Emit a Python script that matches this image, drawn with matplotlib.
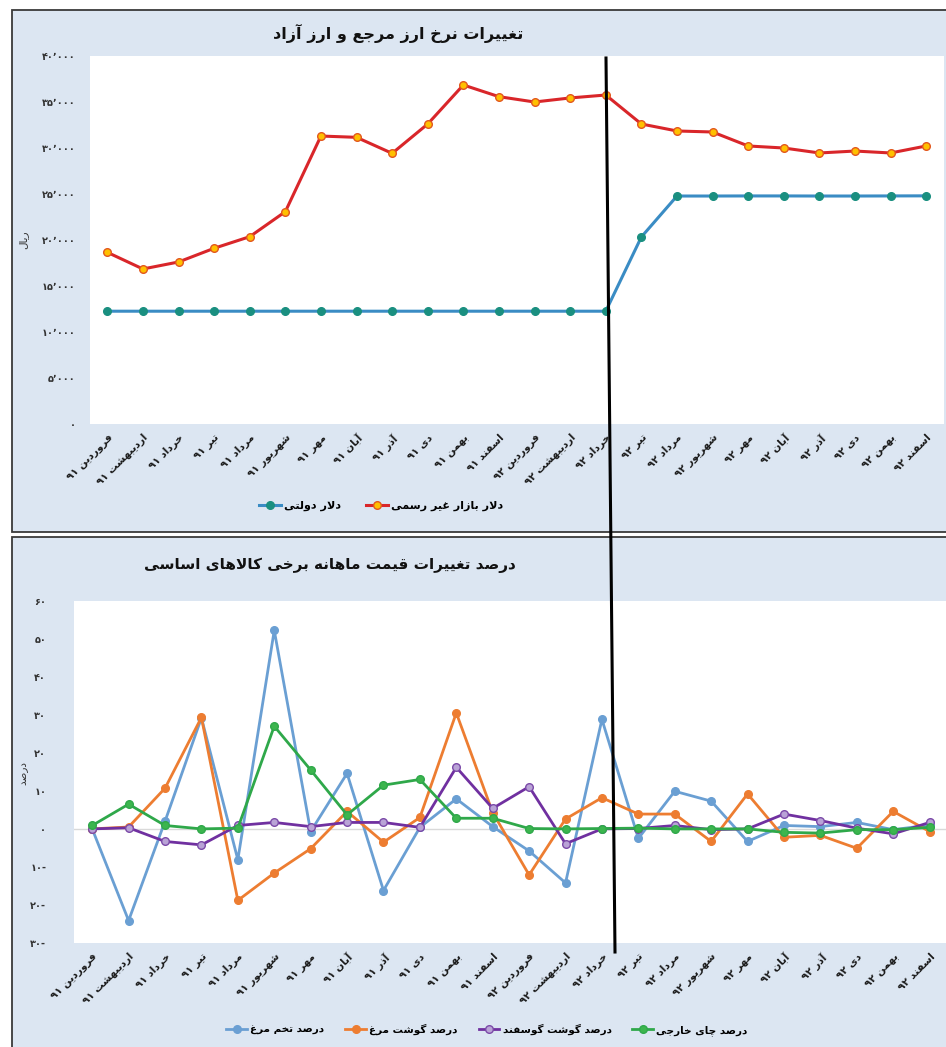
import matplotlib
matplotlib.use("Agg")
import matplotlib.pyplot as plt
from matplotlib.lines import Line2D
from matplotlib.patches import Rectangle

plt.rcParams['font.family'] = ['DejaVu Sans']

# ---------------- data ----------------
months = ["فروردین", "اردیبهشت", "خرداد", "تیر", "مرداد", "شهریور",
          "مهر", "آبان", "آذر", "دی", "بهمن", "اسفند"]
years = ["۹۱", "۹۲"]
categories = [m + " " + y for y in years for m in months]

official_usd = [12260, 12260, 12260, 12260, 12260, 12260, 12260, 12260,
                12260, 12260, 12260, 12260, 12260, 12260, 12260, 20330,
                24780, 24780, 24790, 24790, 24780, 24780, 24790, 24800]
market_usd = [18660, 16850, 17610, 19100, 20360, 23080, 31300, 31160,
              29420, 32610, 36850, 35580, 35000, 35440, 35760, 32610,
              31850, 31740, 30220, 30000, 29460, 29670, 29460, 30220]

egg = [0, -24.1, 2.0, 29.2, -8.1, 52.2, -0.7, 14.6, -16.2, 0.4, 7.9, 0.6,
       -5.8, -14.2, 28.8, -2.5, 9.9, 7.3, -3.3, 0.9, 0.6, 1.7, -0.2, 1.0]
chicken = [0, 0.5, 10.7, 29.3, -18.8, -11.6, -5.2, 4.6, -3.5, 3.0, 30.5, 4.3,
           -12.1, 2.6, 8.2, 3.9, 3.9, -3.3, 9.2, -2.2, -1.7, -5.1, 4.6, -0.7]
mutton = [0, 0.3, -3.3, -4.2, 0.9, 1.7, 0.6, 1.7, 1.7, 0.4, 16.2, 5.4,
          11.1, -3.9, 0.0, 0.1, 0.9, -0.2, 0.0, 3.9, 2.2, 0.2, -1.3, 1.7]
tea = [0.9, 6.5, 0.9, 0.0, 0.2, 27.0, 15.5, 3.7, 11.5, 13.0, 2.8, 2.8,
       0.1, 0.0, 0.1, 0.2, 0.0, 0.0, 0.0, -0.9, -1.1, -0.2, -0.2, 0.4]

title_top = "تغییرات نرخ ارز مرجع و ارز آزاد"
title_bottom = "درصد تغییرات قیمت ماهانه برخی کالاهای اساسی"
ylabel_top = "ریال"
ylabel_bottom = "درصد"
legend_top = ["دلار دولتی", "دلار بازار غیر رسمی"]
legend_bottom = ["درصد تخم مرغ", "درصد گوشت مرغ", "درصد گوشت گوسفند", "درصد چای خارجی"]

top_ticks = [0, 5000, 10000, 15000, 20000, 25000, 30000, 35000, 40000]
bottom_ticks = [-30, -20, -10, 0, 10, 20, 30, 40, 50, 60]

# ---------------- minimal Persian shaping ----------------
FORMS = {
    'ا': (0xFE8D, 0xFE8E, None, None), 'آ': (0xFE81, 0xFE82, None, None),
    'ب': (0xFE8F, 0xFE90, 0xFE91, 0xFE92), 'پ': (0xFB56, 0xFB57, 0xFB58, 0xFB59),
    'ت': (0xFE95, 0xFE96, 0xFE97, 0xFE98), 'ث': (0xFE99, 0xFE9A, 0xFE9B, 0xFE9C),
    'ج': (0xFE9D, 0xFE9E, 0xFE9F, 0xFEA0), 'چ': (0xFB7A, 0xFB7B, 0xFB7C, 0xFB7D),
    'ح': (0xFEA1, 0xFEA2, 0xFEA3, 0xFEA4), 'خ': (0xFEA5, 0xFEA6, 0xFEA7, 0xFEA8),
    'د': (0xFEA9, 0xFEAA, None, None), 'ذ': (0xFEAB, 0xFEAC, None, None),
    'ر': (0xFEAD, 0xFEAE, None, None), 'ز': (0xFEAF, 0xFEB0, None, None),
    'ژ': (0xFB8A, 0xFB8B, None, None),
    'س': (0xFEB1, 0xFEB2, 0xFEB3, 0xFEB4), 'ش': (0xFEB5, 0xFEB6, 0xFEB7, 0xFEB8),
    'ص': (0xFEB9, 0xFEBA, 0xFEBB, 0xFEBC), 'ض': (0xFEBD, 0xFEBE, 0xFEBF, 0xFEC0),
    'ط': (0xFEC1, 0xFEC2, 0xFEC3, 0xFEC4), 'ظ': (0xFEC5, 0xFEC6, 0xFEC7, 0xFEC8),
    'ع': (0xFEC9, 0xFECA, 0xFECB, 0xFECC), 'غ': (0xFECD, 0xFECE, 0xFECF, 0xFED0),
    'ف': (0xFED1, 0xFED2, 0xFED3, 0xFED4), 'ق': (0xFED5, 0xFED6, 0xFED7, 0xFED8),
    'ک': (0xFB8E, 0xFB8F, 0xFB90, 0xFB91), 'گ': (0xFB92, 0xFB93, 0xFB94, 0xFB95),
    'ل': (0xFEDD, 0xFEDE, 0xFEDF, 0xFEE0), 'م': (0xFEE1, 0xFEE2, 0xFEE3, 0xFEE4),
    'ن': (0xFEE5, 0xFEE6, 0xFEE7, 0xFEE8), 'و': (0xFEED, 0xFEEE, None, None),
    'ه': (0xFEE9, 0xFEEA, 0xFEEB, 0xFEEC), 'ی': (0xFBFC, 0xFBFD, 0xFBFE, 0xFBFF),
}
DUAL = {k for k, v in FORMS.items() if v[2] is not None}
JOIN = set(FORMS)
LAMALEF = {'ا': (0xFEFB, 0xFEFC), 'آ': (0xFEF5, 0xFEF6)}


def shape_word(w):
    out = []
    i, n = 0, len(w)
    while i < n:
        c = w[i]
        if c not in FORMS:
            out.append(c)
            i += 1
            continue
        prev = w[i - 1] if i > 0 else None
        jp = prev is not None and prev in DUAL
        if c == 'ل' and i + 1 < n and w[i + 1] in LAMALEF:
            lig = LAMALEF[w[i + 1]]
            out.append(chr(lig[1] if jp else lig[0]))
            i += 2
            continue
        nxt = w[i + 1] if i + 1 < n else None
        jn = c in DUAL and nxt is not None and nxt in JOIN
        iso, fin, ini, med = FORMS[c]
        if jp and jn:
            f = med
        elif jp:
            f = fin
        elif jn:
            f = ini
        else:
            f = iso
        out.append(chr(f))
        i += 1
    return ''.join(reversed(out))


def fa(text):
    vis = []
    for w in text.split(' '):
        if any(ch in FORMS for ch in w):
            vis.append(shape_word(w))
        else:
            vis.append(w)
    return ' '.join(reversed(vis))


PD = str.maketrans("0123456789", "۰۱۲۳۴۵۶۷۸۹")


def fnum_thousands(v):
    v = int(v)
    if v == 0:
        return "۰"
    s = f"{v:,}".replace(",", "٬")
    return s.translate(PD)


def fnum_pct(v):
    v = int(v)
    if v < 0:
        return str(-v).translate(PD) + "-"
    return str(v).translate(PD)


# ---------------- figure ----------------
W, H = 946, 1047
fig = plt.figure(figsize=(W / 100, H / 100), dpi=100)
fig.patch.set_facecolor('white')


def fx(px):
    return px / W


def fy(py):
    return 1 - py / H


BG = '#dce6f2'
fig.add_artist(Rectangle((fx(12), fy(532)), fx(946) - fx(12) + 0.01, fy(10) - fy(532),
                         transform=fig.transFigure, facecolor=BG, edgecolor='#3a3a3a',
                         linewidth=1.3, zorder=0))
fig.add_artist(Rectangle((fx(12), fy(1050)), fx(946) - fx(12) + 0.01, fy(537) - fy(1050),
                         transform=fig.transFigure, facecolor=BG, edgecolor='#3a3a3a',
                         linewidth=1.3, zorder=0))

x = list(range(len(categories)))
xlabels = [fa(c) for c in categories]

# ---- top axes ----
axt = fig.add_axes([fx(89.5), fy(424), fx(944) - fx(89.5), fy(56) - fy(424)])
axt.set_facecolor('white')
axt.plot(x, official_usd, color='#3a8cc4', lw=2.2, marker='o', ms=5.5,
         mfc='#1a8f80', mec='#1a8f80', zorder=3)
axt.plot(x, market_usd, color='#d9262a', lw=2.2, marker='o', ms=5.5,
         mfc='#ffc000', mec='#e2571e', mew=1.0, zorder=3)
axt.set_xlim(-0.5, 23.5)
axt.set_ylim(0, 40000)
axt.set_yticks(top_ticks)
axt.set_yticklabels([fnum_thousands(v) for v in top_ticks], fontsize=7, fontweight='bold')
axt.set_xticks(x)
axt.set_xticklabels(xlabels, rotation=45, ha='right', rotation_mode='anchor',
                    fontsize=7.5, fontweight='bold', color='#1a1a1a')
axt.tick_params(axis='both', length=0)
axt.tick_params(axis='y', pad=10, colors='#333333')
axt.tick_params(axis='x', pad=6)
for s in axt.spines.values():
    s.set_visible(False)

fig.text(fx(398), fy(33), fa(title_top), ha='center', va='center',
         fontsize=11.5, fontweight='bold', color='#111111')
fig.text(fx(23), fy(240), fa(ylabel_top), rotation=90, ha='center', va='center',
         fontsize=7.5, color='#333333')

handles_top = [
    Line2D([], [], color='#3a8cc4', lw=2.2, marker='o', ms=5.5, mfc='#1a8f80', mec='#1a8f80'),
    Line2D([], [], color='#d9262a', lw=2.2, marker='o', ms=5.5, mfc='#ffc000', mec='#e2571e'),
]
fig.legend(handles_top, [fa(t) for t in legend_top], ncol=2, frameon=False,
           loc='center', bbox_to_anchor=(fx(381), fy(506)),
           prop={'size': 8, 'weight': 'bold'}, handlelength=2.0, columnspacing=2.2,
           handletextpad=0.3)

# ---- bottom axes ----
axb = fig.add_axes([fx(74), fy(943), fx(946) - fx(74), fy(600.7) - fy(943)])
axb.set_facecolor('white')
axb.axhline(0, color='#d9d9d9', lw=1.0, zorder=1)
series = [
    (egg, '#6a9fd3', '#6a9fd3', '#6a9fd3'),
    (chicken, '#ed7d31', '#ed7d31', '#ed7d31'),
    (mutton, '#7030a0', '#b9a3d6', '#7b4aa8'),
    (tea, '#2fa84a', '#3cb54e', '#2fa84a'),
]
for vals, lc, mf, me in series:
    axb.plot(x, vals, color=lc, lw=2.0, marker='o', ms=5.5, mfc=mf, mec=me,
             mew=1.0, zorder=3)
axb.set_xlim(-0.5, 23.45)
axb.set_ylim(-30, 60)
axb.set_yticks(bottom_ticks)
axb.set_yticklabels([fnum_pct(v) for v in bottom_ticks], fontsize=7, fontweight='bold')
axb.set_xticks(x)
axb.set_xticklabels(xlabels, rotation=45, ha='right', rotation_mode='anchor',
                    fontsize=7.5, fontweight='bold', color='#1a1a1a')
axb.tick_params(axis='both', length=0)
axb.tick_params(axis='y', pad=20, colors='#333333')
axb.tick_params(axis='x', pad=6)
for s in axb.spines.values():
    s.set_visible(False)

fig.text(fx(330), fy(565), fa(title_bottom), ha='center', va='center',
         fontsize=11, fontweight='bold', color='#111111')
fig.text(fx(23), fy(773), fa(ylabel_bottom), rotation=90, ha='center', va='center',
         fontsize=7.5, color='#333333')

handles_bot = [Line2D([], [], color=lc, lw=2.0, marker='o', ms=5.5, mfc=mf, mec=me)
               for _, lc, mf, me in series]
fig.legend(handles_bot, [fa(t) for t in legend_bottom], ncol=4, frameon=False,
           loc='center', bbox_to_anchor=(fx(487), fy(1030)),
           prop={'size': 7.5, 'weight': 'bold'}, handlelength=2.0, columnspacing=2.0,
           handletextpad=0.3)

# ---- divider line spanning both charts ----
fig.add_artist(Line2D([fx(606), fx(615)], [fy(58), fy(952)], transform=fig.transFigure,
                      color='black', lw=2.2, zorder=10))

fig.savefig("out.png", dpi=100, facecolor='white')
